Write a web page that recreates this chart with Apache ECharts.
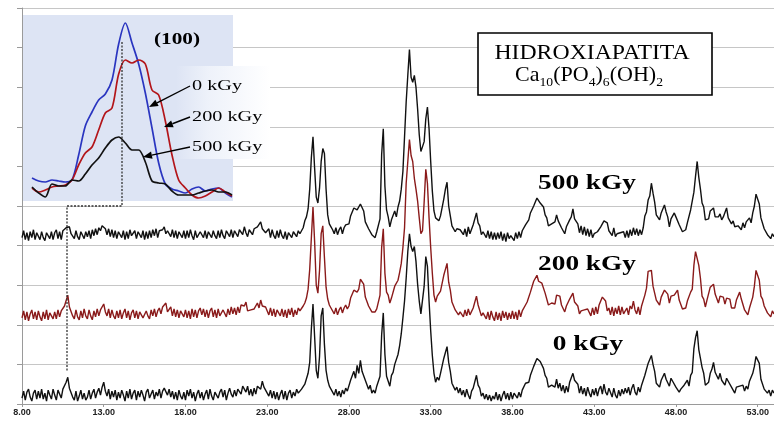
<!DOCTYPE html>
<html><head><meta charset="utf-8">
<script src="https://cdn.jsdelivr.net/npm/echarts@6/dist/echarts.min.js"></script>
<style>html,body{margin:0;padding:0;background:#fff}#c{width:774px;height:423px}</style>
</head><body><div id="c"></div>
<script>
// ---- data (2-theta from 8.0 to 54.0, step 0.1) ----
const thetaStart = 8.0, thetaStep = 0.1;
const xTickLabels = ['8.00','13.00','18.00','23.00','28.00','33.00','38.00','43.00','48.00','53.00'];
const seriesNames = ['0 kGy', '200 kGy', '500 kGy'];
const offsets = [0, 80, 160];

const int0 = [
 6,13,4,12,15,7,3,11,14,5,
 13,6,15,5,11,3,14,9,5,15,
 9,4,14,12,6,15,14,22,27,16,
 15,7,4,13,3,8,14,5,11,4,
 7,14,5,11,15,6,12,16,9,17,
 22,13,8,15,5,13,7,14,4,12,
 6,14,9,3,13,6,15,5,11,14,
 4,13,7,14,9,3,12,15,6,10,
 14,5,12,8,15,6,13,16,17,9,
 15,7,13,5,12,4,14,8,5,12,
 4,14,8,15,6,12,3,10,14,6,
 12,4,10,14,5,15,8,4,12,14,
 6,12,15,7,14,4,11,16,10,7,
 14,8,15,17,10,18,20,12,18,9,
 15,8,16,10,18,20,15,23,17,14,
 16,8,14,6,13,5,12,4,10,14,
 5,13,4,11,14,6,12,8,15,11,
 9,15,13,20,21,31,42,76,101,68,
 34,26,48,89,97,60,34,24,18,15,
 13,9,15,8,13,7,14,10,16,13,
 15,24,23,33,26,39,31,44,33,33,
 24,26,15,19,11,14,11,18,16,28,
 70,92,50,28,27,18,29,32,40,42,
 50,59,71,87,104,127,154,172,159,154,
 159,144,121,104,91,89,119,149,139,104,
 74,49,31,22,27,24,31,32,46,52,
 58,42,33,21,23,14,17,11,16,9,
 14,7,15,9,5,13,16,17,29,19,
 16,8,11,5,10,4,9,3,8,5,
 12,4,10,3,9,13,5,11,4,12,
 5,11,13,6,12,7,14,13,21,20,
 22,29,29,38,37,46,45,43,41,36,
 29,26,17,17,19,19,17,25,16,21,
 13,19,11,18,12,22,22,31,24,23,
 20,11,18,10,16,8,17,11,7,15,
 9,16,8,15,18,10,20,12,9,16,
 15,7,16,9,6,14,8,15,10,16,
 11,17,9,16,20,12,9,17,12,19,
 21,29,29,41,43,49,40,33,21,21,
 17,24,23,31,25,24,18,26,23,23,
 17,18,12,15,13,19,17,24,18,29,
 32,56,67,74,55,46,37,31,19,21,
 22,31,35,42,32,30,25,31,24,26,
 19,26,23,23,17,18,11,17,15,18,
 17,19,13,18,15,23,21,31,38,48,
 47,41,25,24,15,17,11,14,8,14,
 11
];

const int200 = [
 7,14,5,13,4,11,15,6,13,5,
 14,8,4,13,6,15,5,12,14,6,
 13,6,15,8,14,13,19,21,30,18,
 17,9,6,15,8,5,14,7,16,9,
 6,15,9,5,14,8,16,9,15,14,
 21,13,9,16,7,15,9,6,14,7,
 15,6,12,16,7,14,5,12,15,7,
 14,6,13,15,7,5,14,9,6,15,
 9,16,8,14,17,11,18,16,22,13,
 11,18,9,16,8,15,7,14,16,8,
 15,7,14,6,16,8,15,7,14,17,
 10,16,8,15,7,14,17,8,15,7,
 16,9,7,15,17,8,16,10,18,11,
 17,10,18,12,20,18,19,23,14,16,
 15,17,16,18,22,17,25,19,20,18,
 18,10,17,9,16,8,15,17,9,16,
 8,15,7,16,10,17,8,15,10,17,
 14,16,19,22,27,36,56,88,119,84,
 40,32,55,92,100,68,38,26,20,17,
 15,11,17,10,15,18,12,17,20,16,
 19,27,27,35,33,33,36,46,46,41,
 28,27,19,19,13,15,13,16,16,30,
 78,97,52,33,30,22,27,29,39,39,
 45,53,62,78,98,143,165,187,171,165,
 148,137,125,108,92,95,124,157,143,108,
 78,52,30,23,29,28,34,35,50,56,
 62,43,35,23,22,15,16,10,13,11,
 8,15,9,16,10,8,17,18,29,20,
 18,9,12,10,6,13,5,14,8,4,
 13,5,12,4,14,7,13,5,12,6,
 14,6,13,5,15,8,14,12,20,23,
 25,33,34,44,43,50,44,42,42,40,
 32,30,20,20,22,22,21,30,30,29,
 20,20,13,19,18,26,25,32,23,23,
 19,11,14,12,15,13,16,15,9,17,
 10,18,11,20,18,28,26,24,14,17,
 10,18,9,17,11,19,10,18,11,9,
 17,10,19,16,24,15,11,18,10,19,
 19,30,37,54,56,55,39,32,25,26,
 20,28,28,35,33,31,22,29,29,30,
 28,35,25,23,16,18,17,24,24,33,
 36,60,74,72,60,47,29,26,18,25,
 27,38,39,41,31,30,22,29,28,28,
 21,27,25,26,17,19,17,25,25,33,
 26,24,15,16,10,17,16,28,39,55,
 53,45,29,26,19,19,12,14,8,14,
 11
];

const int500 = [
 8,15,6,13,5,14,8,16,6,13,
 15,6,14,8,5,13,15,7,14,6,
 13,16,7,14,6,15,13,18,17,19,
 12,14,7,15,9,6,14,16,7,14,
 9,15,7,16,10,17,11,18,15,20,
 18,17,11,17,9,16,8,15,7,14,
 16,8,15,6,14,7,16,10,8,15,
 7,14,16,8,15,6,14,7,15,8,
 16,10,17,8,15,14,16,19,12,15,
 17,9,16,8,15,7,14,16,8,15,
 7,15,8,16,10,6,15,8,7,14,
 16,8,15,7,14,16,8,15,10,7,
 15,8,16,10,7,15,17,9,16,8,
 15,17,9,16,18,11,19,13,9,16,
 18,11,17,16,19,18,24,17,19,13,
 15,17,8,16,10,7,15,8,16,10,
 7,14,6,13,15,8,14,16,9,15,
 12,15,18,25,29,37,57,89,110,78,
 49,43,58,85,98,93,57,31,22,19,
 16,12,18,11,16,19,12,18,21,22,
 22,30,29,38,36,36,35,42,40,35,
 24,24,17,17,11,13,8,14,14,27,
 92,118,60,36,29,19,26,26,35,29,
 39,45,57,75,110,145,172,198,170,165,
 172,160,138,112,95,100,105,128,140,118,
 85,55,35,28,28,25,30,31,47,57,
 64,40,30,20,20,14,17,15,16,14,
 11,17,9,19,12,14,21,21,33,23,
 20,11,14,13,8,15,7,14,6,13,
 6,13,7,14,5,12,4,13,7,10,
 12,5,13,7,14,8,15,13,21,23,
 26,33,32,40,40,48,46,43,42,39,
 31,28,20,22,22,24,24,31,25,26,
 18,18,12,19,18,26,29,37,27,26,
 22,13,20,11,19,10,17,9,16,8,
 12,10,14,13,19,18,25,23,23,15,
 17,10,18,9,12,11,13,12,14,8,
 15,8,16,10,18,11,17,10,16,11,
 18,30,34,46,50,63,53,44,31,32,
 26,33,33,41,34,29,19,27,27,33,
 29,30,21,21,14,16,16,23,25,36,
 34,54,70,85,69,57,43,39,26,27,
 27,35,36,38,29,30,29,32,26,29,
 31,38,28,30,22,25,19,21,20,22,
 16,23,18,24,22,28,23,33,40,52,
 51,42,28,26,17,17,11,13,7,12,
 9
];

// inset: (100) reflection, 2-theta 9.5 .. 12.5 step 0.1
const insetStart = 9.5, insetStep = 0.1;
const inset0   = [22,19,18,20,19,18,20,45,74,88,100,106,120,156,177,157,136,107,72,37,16,11,9,7,11,13,9,11,12,7,3];
const inset200 = [12,8,10,13,14,15,20,35,47,53,70,87,92,126,140,137,140,136,110,105,79,45,20,12,5,2,4,8,12,8,4];
const inset500 = [13,7,3,16,14,14,20,19,26,35,42,52,60,63,57,50,50,38,19,17,16,9,5,5,5,7,9,10,8,8,5];

// ---- build ----
const pairs = (arr, start, step, off) => arr.map((v, i) => [+(start + i * step).toFixed(2), v + off]);
const mainColors = ['#111111', '#8a1a1a', '#111111'];
const mainData = [int0, int200, int500];
const insetData = [inset0, inset200, inset500];
const insetColors = ['#2a35c0', '#b3151a', '#111111'];

const serif = '"Liberation Serif","Times New Roman",serif';
const series = [];
mainData.forEach((arr, k) => series.push({
  name: seriesNames[k], type: 'line', xAxisIndex: 0, yAxisIndex: 0,
  data: pairs(arr, thetaStart, thetaStep, offsets[k]), showSymbol: false, symbol: 'none',
  lineStyle: { color: mainColors[k], width: 1.4 }, z: 3, silent: true
}));
insetData.forEach((arr, k) => series.push({
  name: 'inset ' + seriesNames[k], type: 'line', xAxisIndex: 1, yAxisIndex: 1,
  data: pairs(arr, insetStart, insetStep, 0), showSymbol: false, symbol: 'none', smooth: 0.3,
  lineStyle: { color: insetColors[k], width: 1.7 }, z: 4, silent: true
}));

function arrow(ax, ay, tx, ty) {
  const dx = tx - ax, dy = ty - ay, L = Math.hypot(dx, dy), ux = dx / L, uy = dy / L;
  const bx = tx - 9 * ux, by = ty - 9 * uy, px = -uy * 3.6, py = ux * 3.6;
  return [
    { type: 'line', z: 8, shape: { x1: ax, y1: ay, x2: bx, y2: by }, style: { stroke: '#000', lineWidth: 1.4 } },
    { type: 'polygon', z: 8, shape: { points: [[tx, ty], [bx + px, by + py], [bx - px, by - py]] }, style: { fill: '#000' } }
  ];
}
function txt(x, y, text, font, align, scaleX) {
  return { type: 'text', x: x, y: y, z: 9, scaleX: scaleX || 1,
    style: { text: text, font: font, fill: '#000', align: align || 'center', verticalAlign: 'middle',
             textAlign: align || 'center', textVerticalAlign: 'middle' } };
}

const graphics = [
  // inset background and label panel
  { type: 'rect', z: 1, shape: { x: 23, y: 15, width: 210, height: 186 }, style: { fill: '#dde4f4' } },
  { type: 'rect', z: 1, shape: { x: 176, y: 66, width: 94, height: 93 },
    style: { fill: new echarts.graphic.LinearGradient(0, 0, 1, 0, [
      { offset: 0, color: 'rgba(221,228,244,1)' }, { offset: 0.35, color: '#eef2fa' }, { offset: 1, color: '#ffffff' }]) } },
  // dotted guide lines
  { type: 'polyline', z: 6, shape: { points: [[122, 42], [122, 206], [67, 206], [67, 372]] },
    style: { stroke: '#333', lineWidth: 1.3, lineDash: [2, 1.5], fill: null } },
  // title box
  { type: 'rect', z: 7, shape: { x: 478, y: 33, width: 234, height: 62 }, style: { fill: '#fff', stroke: '#000', lineWidth: 1.6 } },
  txt(592, 53, 'HIDROXIAPATITA', '22px ' + serif, 'center', 1.08),
  { type: 'text', x: 589, y: 77, z: 9, scaleX: 1.05, style: {
      text: '{n|Ca}{s|10}{n|(PO}{s|4}{n|)}{s|6}{n|(OH)}{s|2}',
      align: 'center', verticalAlign: 'middle', textAlign: 'center', textVerticalAlign: 'middle',
      rich: { n: { fontSize: 21, fontFamily: serif, verticalAlign: 'bottom', padding: [0, 0, 3, 0], fill: '#000', color: '#000' },
              s: { fontSize: 13, fontFamily: serif, verticalAlign: 'bottom', fill: '#000', color: '#000' } } } },
  // trace labels
  txt(587, 184, '500 kGy', 'bold 21px ' + serif, 'center', 1.3),
  txt(587, 265, '200 kGy', 'bold 21px ' + serif, 'center', 1.3),
  txt(588, 345, '0 kGy', 'bold 21px ' + serif, 'center', 1.3),
  // inset labels
  txt(177, 40, '(100)', 'bold 17px ' + serif, 'center', 1.25),
  txt(192, 86, '0 kGy', '15px ' + serif, 'left', 1.35),
  txt(192, 117, '200 kGy', '15px ' + serif, 'left', 1.35),
  txt(192, 147, '500 kGy', '15px ' + serif, 'left', 1.35),
  ...arrow(190, 86, 149, 107),
  ...arrow(190, 117, 164, 127),
  ...arrow(190, 147, 143, 157)
];

const chart = echarts.init(document.getElementById('c'), null, { renderer: 'canvas' });
chart.setOption({
  animation: false,
  backgroundColor: '#ffffff',
  grid: [
    { left: 22, top: 8, width: 752, height: 396, containLabel: false, outerBoundsMode: 'none' },
    { left: 32, top: 15, width: 200, height: 185, containLabel: false, outerBoundsMode: 'none', z: 2 }
  ],
  xAxis: [
    { type: 'value', gridIndex: 0, min: 8, max: 54, interval: 5,
      axisLine: { show: true, lineStyle: { color: '#9a9a9a', width: 1 } },
      axisTick: { show: true, length: 3, lineStyle: { color: '#9a9a9a' } },
      splitLine: { show: false },
      axisLabel: { show: true, margin: 4, fontSize: 9, fontWeight: 'bold', color: '#222',
        fontFamily: '"Liberation Sans", Arial, sans-serif',
        formatter: v => { const k = Math.round((v - 8) / 5); return Math.abs(v - (8 + 5 * k)) < 1e-6 && xTickLabels[k] ? xTickLabels[k] : ''; } } },
    { type: 'value', gridIndex: 1, min: 9.5, max: 12.5, show: false }
  ],
  yAxis: [
    { type: 'value', gridIndex: 0, min: 0, max: 400, interval: 40,
      axisLine: { show: true, lineStyle: { color: '#9a9a9a', width: 1 } },
      axisTick: { show: true, length: 5, lineStyle: { color: '#9a9a9a' } },
      axisLabel: { show: false },
      splitLine: { show: true, lineStyle: { color: '#c6c6c6', width: 1 } } },
    { type: 'value', gridIndex: 1, min: 0, max: 185, show: false, splitLine: { show: false } }
  ],
  series: series,
  graphic: { elements: graphics }
});
</script>
</body></html>
